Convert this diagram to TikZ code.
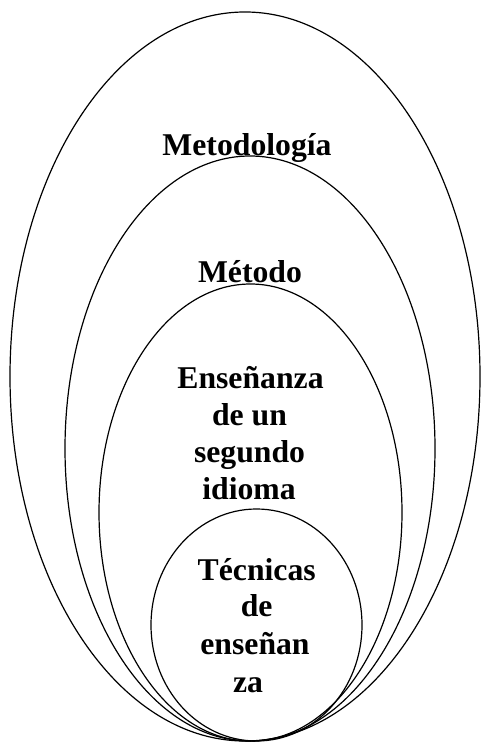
\documentclass[tikz,border=0pt]{standalone}
\usepackage{fontspec}
\setmainfont{Liberation Serif}
\usetikzlibrary{shapes.geometric}
\begin{document}
\begin{tikzpicture}[x=1pt,y=-1pt,
  ring/.style={draw=black, line width=1.2pt, ellipse, inner sep=0pt, outer sep=0pt},
  lbl/.style={anchor=base, inner sep=0pt, font=\fontsize{31.7}{36.5}\selectfont\bfseries}]
\useasboundingbox (0,0) rectangle (480,743);
\node[ring, minimum width=470pt, minimum height=729pt] (e1) at (245,376.5) {};
\node[ring, minimum width=370pt, minimum height=585pt] (e2) at (250,448.5) {};
\node[ring, minimum width=303pt, minimum height=457pt] (e3) at (250.5,512.5) {};
\node[ring, minimum width=211pt, minimum height=232pt] (e4) at (256.5,625) {};
\node[lbl] (t1) at (247,156) {Metodología};
\node[lbl] (t2) at (250,282) {Método};
\node[lbl] (t3a) at (250.5,388) {Enseñanza};
\node[lbl] (t3b) at (249.5,425) {de un};
\node[lbl] (t3c) at (249.5,462) {segundo};
\node[lbl] (t3d) at (249,499) {idioma};
\node[lbl] (t4a) at (256.7,580) {Técnicas};
\node[lbl] (t4b) at (256.7,616) {de};
\node[lbl] (t4c) at (255,654) {enseñan};
\node[lbl] (t4d) at (248,692) {za};
\end{tikzpicture}
\end{document}
